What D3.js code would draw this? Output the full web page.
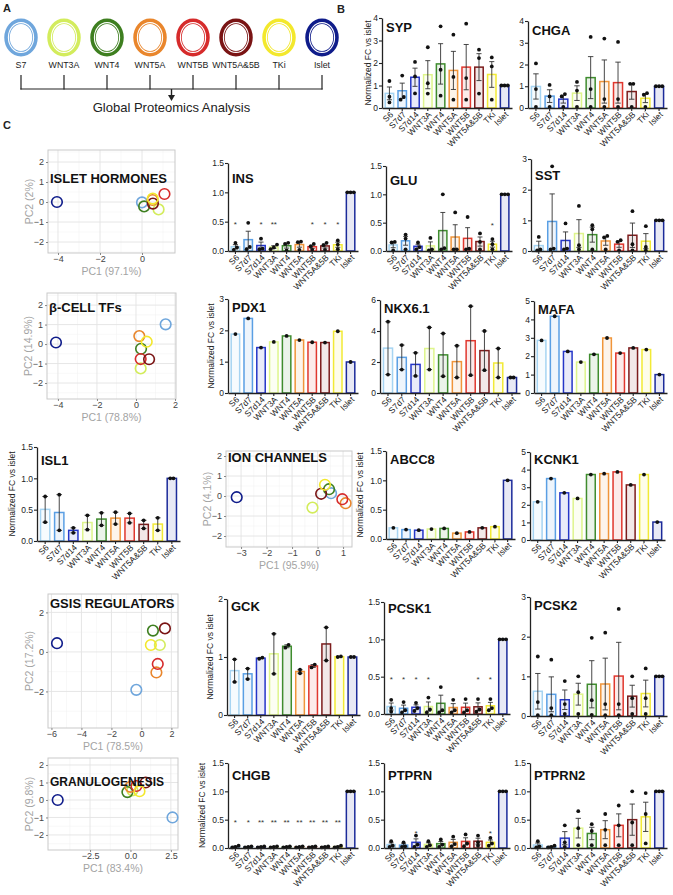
<!DOCTYPE html>
<html>
<head>
<meta charset="utf-8">
<script src="https://cdn.jsdelivr.net/npm/d3@7"></script>
<style>
  body { margin: 0; background: #fff; }
  svg { display: block; }
  text { font-family: "Liberation Sans", Arial, sans-serif; }
</style>
</head>
<body>
<svg width="673" height="895"></svg>
<script>
// ---- data ----
const cats = ["S6", "S7d7", "S7d14", "WNT3A", "WNT4", "WNT5A", "WNT5B", "WNT5A&5B", "TKi", "Islet"];
const catColors = ["#a6d4f2", "#5a9fe4", "#2536c8", "#def58c", "#3f8c2e", "#f0953a", "#e0372e", "#7c1c1c", "#f2ea35", "#1c2b9a"];

const groups = ["S7", "WNT3A", "WNT4", "WNT5A", "WNT5B", "WNT5A&5B", "TKi", "Islet"];
const groupColors = ["#6fa6dc", "#d3ec5c", "#3e7f20", "#e9862c", "#d62b2b", "#7a1414", "#f3e82c", "#0f1c8a"];

// replicate values per category (order = cats)
const sypVals  = [[1.2,0.5,0.25],[1.44,0.49,0.37],[2.05,1.4,0.65],[2.7,1.1,0.64],[3.63,1.7,0.55],[3.26,1.38,0.37],[3.75,1.33,0.37],[2.59,2.22,0.64],[2.25,1.85,0.37],[1,1,1]];
const chgaVals = [[2.05,0.87,0.05],[1.06,0.53,0.05],[0.64,0.53,0.05],[1.2,0.8,0.05],[3.27,0.87,0.05],[3.19,0.41,0.05],[3.04,0.41,0.05],[1.11,1.11,0.05],[0.68,0.61,0.05],[1,1,1]];
const insVals  = [[0.14,0.06,0.02],[0.48,0.07,0.03],[0.21,0.04,0.03],[0.11,0.06,0.03],[0.14,0.12,0.01],[0.16,0.15,0.02],[0.12,0.08,0.02],[0.14,0.1,0.02],[0.18,0.11,0.03],[1,1,1]];
const insStars = ["*","","*","**","","","*","*","*",""];
const gluVals  = [[0.16,0.15,0.01],[0.29,0.22,0.03],[0.15,0.07,0.03],[0.23,0.03,0.01],[1.0,0.05,0.03],[0.68,0.03,0.03],[0.6,0.04,0.03],[0.31,0.16,0.03],[0.21,0.12,0.03],[1,1,1]];
const gluStars = ["","","","","","","","","*",""];
const sstVals  = [[0.46,0.05,0.02],[2.76,0.08,0.05],[0.9,0.08,0.05],[1.47,0.19,0.05],[0.84,0.71,0.05],[0.49,0.44,0.05],[0.35,0.3,0.02],[1.3,0.22,0.02],[0.81,0.13,0.02],[1,1,1]];
const pdx1Vals = [[1.88],[2.38],[1.45],[1.63],[1.82],[1.69],[1.62],[1.61],[1.97],[0.99]];
const nkxVals  = [[4.6,1.19],[3.09,1.51],[2.59,1.1],[4.23,1.51],[3.84,1.08],[3.05,1.0],[5.6,1.15],[4.0,1.47],[2.87,1.0],[1,1]];
const mafaVals = [[2.86],[4.17],[2.26],[1.68],[2.1],[2.99],[2.17],[2.45],[2.36],[1.0]];
const isl1Vals = [[0.71,0.3],[0.74,0.17],[0.21,0.13],[0.41,0.18],[0.45,0.25],[0.46,0.27],[0.44,0.29],[0.33,0.2],[0.37,0.17],[1,1]];
const abcc8Vals = [[0.19],[0.16],[0.15],[0.17],[0.18],[0.10],[0.12],[0.19],[0.21],[1.0]];
const kcnk1Vals = [[2.17],[3.49],[2.68],[2.36],[3.72],[3.77],[3.87],[3.13],[3.72],[1.02]];
const gckVals  = [[0.96,0.57],[0.8,0.62],[0.99,0.97],[1.4,0.71],[1.21,1.16],[0.78,0.72],[0.87,0.82],[1.51,0.94],[1.01,1.0],[1,1]];
const pcsk1Vals = [[0.19,0.08,0.03],[0.16,0.05,0.02],[0.15,0.08,0.04],[0.22,0.06,0.02],[0.36,0.05,0.02],[0.19,0.05,0.02],[0.2,0.05,0.02],[0.2,0.06,0.03],[0.2,0.08,0.05],[1,1,1]];
const pcsk1Stars = ["*","*","*","*","","","","*","*",""];
const pcsk2Vals = [[1.5,0.35,0.02],[1.42,0.2,0.02],[0.88,0.3,0.05],[1.0,0.6,0.05],[1.97,0.4,0.03],[2.1,0.3,0.02],[2.7,0.3,0.02],[1.0,0.45,0.05],[1.2,0.45,0.05],[1,1,1]];
const chgbVals = [[0.04,0.02,0.01],[0.03,0.02,0.01],[0.03,0.02,0.01],[0.03,0.02,0.01],[0.03,0.02,0.01],[0.03,0.02,0.01],[0.03,0.02,0.01],[0.03,0.02,0.01],[0.04,0.02,0.01],[1,1,1]];
const chgbStars = ["*","*","**","**","**","**","**","**","**",""];
const ptprnVals = [[0.12,0.04,0.02],[0.1,0.03,0.02],[0.22,0.06,0.02],[0.12,0.05,0.02],[0.15,0.06,0.02],[0.2,0.07,0.03],[0.24,0.08,0.03],[0.22,0.1,0.04],[0.18,0.08,0.04],[1,1,1]];
const ptprnStars = ["","","*","","","","","","*",""];
const ptprn2Vals = [[0.12,0.03,0.01],[0.04,0.02,0.01],[0.4,0.1,0.02],[0.65,0.35,0.05],[0.42,0.3,0.05],[0.6,0.32,0.05],[0.75,0.4,0.05],[1.0,0.45,0.05],[0.97,0.6,0.08],[1,1,1]];

// PCA scores, order = groups
const pcaHormones = [[0.0,-0.02],[0.79,-0.37],[0.1,-0.22],[0.5,0.1],[1.07,0.4],[0.52,-0.08],[0.51,0.17],[-4.05,0.0]];
const pcaTFs      = [[1.52,1.01],[0.24,-1.25],[0.26,-0.24],[0.17,0.41],[0.24,-0.77],[0.67,-0.78],[0.55,0.12],[-4.1,0.08]];
const pcaIon      = [[0.53,0.14],[-0.2,-0.58],[0.45,0.34],[1.1,-0.36],[0.97,-0.16],[0.14,0.11],[0.29,0.56],[-3.17,-0.06]];
const pcaGsis     = [[-0.34,-1.92],[1.23,0.35],[0.77,1.08],[1.0,-1.04],[1.09,-0.61],[1.57,1.19],[0.63,0.35],[-5.63,0.44]];
const pcaGranulo  = [[2.6,-1.0],[0.12,0.55],[-0.19,0.45],[0.0,0.75],[0.37,0.8],[0.94,1.0],[0.56,0.5],[-4.5,0.0]];

// ---- drawing ----
const svg = d3.select("svg");
const ink = "#222";

// panel letters
[["A", 3, 12], ["B", 337, 13], ["C", 3, 129]].forEach(p => {
  svg.append("text").attr("x", p[1]).attr("y", p[2]).text(p[0])
    .attr("font-weight", "bold").attr("font-size", 11).attr("fill", ink);
});

// panel A: rings, bracket, arrow
const ringX = d3.scalePoint().domain(groups).range([21, 322]);
const ringY = 37.5;
const ringG = svg.append("g");
groups.forEach((gName, i) => {
  const cx = ringX(gName);
  ringG.append("ellipse").attr("cx", cx).attr("cy", ringY).attr("rx", 14).attr("ry", 16.3)
    .attr("fill", "#fff").attr("stroke", groupColors[i]).attr("stroke-width", 5.5);
  ringG.append("ellipse").attr("cx", cx).attr("cy", ringY).attr("rx", 12.6).attr("ry", 14.9)
    .attr("fill", "none").attr("stroke", "#fff").attr("stroke-width", 1.1);
  ringG.append("text").attr("x", cx).attr("y", 68).attr("text-anchor", "middle")
    .attr("font-size", 8.8).attr("fill", ink).text(gName);
  ringG.append("line").attr("x1", cx).attr("x2", cx).attr("y1", 75).attr("y2", 89.5)
    .attr("stroke", ink).attr("stroke-width", 1.2);
});
const midX = (ringX(groups[0]) + ringX(groups[groups.length - 1])) / 2;
ringG.append("line").attr("x1", ringX(groups[0]) - 0.6).attr("x2", ringX(groups[groups.length - 1]) + 0.6)
  .attr("y1", 89).attr("y2", 89).attr("stroke", ink).attr("stroke-width", 1.2);
ringG.append("line").attr("x1", midX).attr("x2", midX).attr("y1", 89).attr("y2", 96)
  .attr("stroke", ink).attr("stroke-width", 1.4);
ringG.append("path").attr("d", `M${midX - 3.5},95 L${midX + 3.5},95 L${midX},101 Z`).attr("fill", ink);
ringG.append("text").attr("x", midX).attr("y", 112).attr("text-anchor", "middle")
  .attr("font-size", 13).attr("fill", ink).text("Global Proteomics Analysis");

// bar chart helper (GraphPad-style)
function barChart(c) {
  const g = svg.append("g");
  const x = d3.scaleBand().domain(cats).range([c.x0, c.x1]).paddingInner(0.34).paddingOuter(0.25);
  const y = d3.scaleLinear().domain([0, c.max]).range([c.y0, c.yTop]);
  const bw = x.bandwidth();
  const rows = c.vals.map((v, i) => ({
    cat: cats[i], col: catColors[i], v: v,
    m: d3.mean(v), se: v.length > 1 ? d3.deviation(v) / Math.sqrt(v.length) : 0
  }));

  g.selectAll("rect.bar").data(rows).join("rect").attr("class", "bar")
    .attr("x", d => x(d.cat)).attr("width", bw)
    .attr("y", d => y(d.m)).attr("height", d => c.y0 - y(d.m))
    .attr("fill", d => d.col).attr("fill-opacity", 0.1)
    .attr("stroke", d => d.col).attr("stroke-width", 1.5);

  const eb = rows.filter(d => d.se > 0.004);
  const cx = d => x(d.cat) + bw / 2;
  g.selectAll("line.eb").data(eb).join("line").attr("class", "eb")
    .attr("x1", cx).attr("x2", cx)
    .attr("y1", d => y(d.m + d.se)).attr("y2", d => y(Math.max(0, d.m - d.se)))
    .attr("stroke", "#333").attr("stroke-width", 0.9);
  ["hi", "lo"].forEach(k => {
    g.selectAll("line.cap" + k).data(eb).join("line").attr("class", "cap" + k)
      .attr("x1", d => cx(d) - bw * 0.3).attr("x2", d => cx(d) + bw * 0.3)
      .attr("y1", d => y(k === "hi" ? d.m + d.se : Math.max(0, d.m - d.se)))
      .attr("y2", d => y(k === "hi" ? d.m + d.se : Math.max(0, d.m - d.se)))
      .attr("stroke", "#333").attr("stroke-width", 0.9);
  });

  // dots: spread sideways only when values nearly coincide
  const pts = [];
  rows.forEach(d => {
    const sorted = d.v.slice().sort((a, b) => a - b);
    let cluster = [];
    const flush = () => {
      cluster.forEach((val, j) => pts.push({ cat: d.cat, val: val, off: (j - (cluster.length - 1) / 2) * 3.2 }));
      cluster = [];
    };
    sorted.forEach(val => {
      if (cluster.length && Math.abs(y(val) - y(cluster[cluster.length - 1])) > 3.2) flush();
      cluster.push(val);
    });
    flush();
  });
  g.selectAll("circle.dot").data(pts).join("circle").attr("class", "dot")
    .attr("cx", d => x(d.cat) + bw / 2 + d.off).attr("cy", d => y(d.val))
    .attr("r", 1.9).attr("fill", "#111");

  if (c.stars) {
    g.selectAll("text.star").data(rows.map((d, i) => ({ cat: d.cat, s: c.stars[i] })).filter(d => d.s))
      .join("text").attr("class", "star")
      .attr("x", d => x(d.cat) + bw / 2).attr("y", y(c.starY) + 5)
      .attr("text-anchor", "middle").attr("font-size", 8).attr("fill", "#333").text(d => d.s);
  }

  const fmt = c.max === 1.5 ? d3.format(".1f") : d3.format("d");
  const ya = g.append("g").attr("transform", `translate(${c.x0},0)`)
    .call(d3.axisLeft(y).tickValues(c.ticks).tickSize(3).tickSizeOuter(0).tickFormat(fmt));
  const xa = g.append("g").attr("transform", `translate(0,${c.y0})`)
    .call(d3.axisBottom(x).tickSize(3).tickSizeOuter(0));
  [ya, xa].forEach(a => {
    a.select(".domain").attr("stroke", ink).attr("stroke-width", 1.3);
    a.selectAll(".tick line").attr("stroke", ink).attr("stroke-width", 1.1);
    a.selectAll("text").attr("font-size", 8.5).attr("fill", ink).attr("font-family", null);
  });
  ya.selectAll("text").attr("x", -4);
  xa.selectAll("text")
    .attr("x", -2).attr("y", 3).attr("dy", "0.6em")
    .attr("transform", "rotate(-45)").style("text-anchor", "end");

  g.append("text").attr("x", c.x0 + 4).attr("y", c.yTop + c.tdy)
    .attr("font-weight", "bold").attr("font-size", 13).attr("fill", "#111").text(c.title);

  if (c.ylab) {
    const yc = (c.y0 + c.yTop) / 2, xl = c.x0 + c.ylabDx;
    g.append("text").attr("transform", `translate(${xl},${yc}) rotate(-90)`)
      .attr("text-anchor", "middle").attr("font-size", 8.5).attr("fill", ink)
      .text("Normalized FC vs islet");
  }
}

// PCA helper (ggplot-style)
function pcaPlot(c) {
  const g = svg.append("g");
  const x = d3.scaleLinear().domain(c.xd).range([c.x0, c.x1]);
  const y = d3.scaleLinear().domain(c.yd).range([c.y1, c.y0]);
  g.append("rect").attr("x", c.x0).attr("y", c.y0).attr("width", c.x1 - c.x0).attr("height", c.y1 - c.y0)
    .attr("fill", "#fff");
  const xs = c.xt[1] - c.xt[0], ys = c.yt[1] - c.yt[0];
  const xMinor = d3.range(c.xt[0] - xs * 1.5, c.xd[1], xs).filter(v => v > c.xd[0]);
  const yMinor = d3.range(c.yt[0] - ys * 1.5, c.yd[1], ys).filter(v => v > c.yd[0]);
  g.selectAll("line.xmin").data(xMinor).join("line").attr("class", "xmin")
    .attr("x1", d => x(d)).attr("x2", d => x(d)).attr("y1", c.y0).attr("y2", c.y1)
    .attr("stroke", "#f0f0f0").attr("stroke-width", 0.5);
  g.selectAll("line.ymin").data(yMinor).join("line").attr("class", "ymin")
    .attr("y1", d => y(d)).attr("y2", d => y(d)).attr("x1", c.x0).attr("x2", c.x1)
    .attr("stroke", "#f0f0f0").attr("stroke-width", 0.5);
  g.selectAll("line.xmaj").data(c.xt).join("line").attr("class", "xmaj")
    .attr("x1", d => x(d)).attr("x2", d => x(d)).attr("y1", c.y0).attr("y2", c.y1)
    .attr("stroke", "#e3e3e3").attr("stroke-width", 0.9);
  g.selectAll("line.ymaj").data(c.yt).join("line").attr("class", "ymaj")
    .attr("y1", d => y(d)).attr("y2", d => y(d)).attr("x1", c.x0).attr("x2", c.x1)
    .attr("stroke", "#e3e3e3").attr("stroke-width", 0.9);
  g.append("rect").attr("x", c.x0).attr("y", c.y0).attr("width", c.x1 - c.x0).attr("height", c.y1 - c.y0)
    .attr("fill", "none").attr("stroke", "#c9c9c9").attr("stroke-width", 1);

  g.selectAll("circle.pt").data(c.pts).join("circle").attr("class", "pt")
    .attr("cx", d => x(d[0])).attr("cy", d => y(d[1])).attr("r", 5.3)
    .attr("fill", "none").attr("stroke", (d, i) => groupColors[i]).attr("stroke-width", 1.6);

  const xa = g.append("g").attr("transform", `translate(0,${c.y1})`)
    .call(d3.axisBottom(x).tickValues(c.xt).tickSize(2).tickPadding(1).tickFormat(c.xfmt || d3.format("d")));
  const ya = g.append("g").attr("transform", `translate(${c.x0},0)`)
    .call(d3.axisLeft(y).tickValues(c.yt).tickSize(2).tickPadding(2).tickFormat(d3.format("d")));
  [xa, ya].forEach(a => {
    a.select(".domain").remove();
    a.selectAll(".tick line").attr("stroke", "#888");
    a.selectAll("text").attr("font-size", 9).attr("fill", "#444").attr("font-family", null);
  });

  g.append("text").attr("x", (c.x0 + c.x1) / 2).attr("y", c.y1 + 22).attr("text-anchor", "middle")
    .attr("font-size", 10.5).attr("fill", "#a3a3a3").text(c.xlab);
  g.append("text").attr("transform", `translate(${c.x0 - 15},${(c.y0 + c.y1) / 2}) rotate(-90)`)
    .attr("text-anchor", "middle").attr("font-size", 10.5).attr("fill", "#a3a3a3").text(c.ylab);
  g.append("text").attr("x", c.x0 + 2).attr("y", c.titleY)
    .attr("font-weight", "bold").attr("font-size", c.titleSize || 13).attr("fill", "#111").text(c.title);
}

// ---- panel B ----
barChart({ title: "SYP", vals: sypVals, x0: 382, x1: 512, y0: 108, yTop: 18, max: 4, ticks: [0,1,2,3,4], tdy: 14, ylab: true, ylabDx: -11 });
barChart({ title: "CHGA", vals: chgaVals, x0: 528, x1: 667, y0: 108, yTop: 21, max: 4, ticks: [0,1,2,3,4], tdy: 14 });

// ---- panel C, row 1 ----
pcaPlot({ title: "ISLET HORMONES", pts: pcaHormones, x0: 48, x1: 175, y0: 150, y1: 253,
  xd: [-4.476, 1.571], yd: [-2.55, 2.6], xt: [-4, -2, 0], yt: [-2, -1, 0, 1, 2], titleY: 183,
  xlab: "PC1 (97.1%)", ylab: "PC2 (2%)" });
barChart({ title: "INS", vals: insVals, stars: insStars, starY: 0.5, x0: 228, x1: 358, y0: 251, yTop: 163, max: 1.5, ticks: [0,0.5,1,1.5], tdy: 20 });
barChart({ title: "GLU", vals: gluVals, stars: gluStars, starY: 0.5, x0: 386, x1: 512, y0: 251, yTop: 166, max: 1.5, ticks: [0,0.5,1,1.5], tdy: 19 });
barChart({ title: "SST", vals: sstVals, x0: 531, x1: 667, y0: 251, yTop: 159, max: 3, ticks: [0,1,2,3], tdy: 21 });

// ---- row 2 ----
pcaPlot({ title: "β-CELL TFs", pts: pcaTFs, x0: 47, x1: 176, y0: 293, y1: 399,
  xd: [-4.56, 2.05], yd: [-2.82, 2.62], xt: [-4, -2, 0, 2], yt: [-2, -1, 0, 1, 2], titleY: 312,
  xlab: "PC1 (78.8%)", ylab: "PC2 (14.9%)" });
barChart({ title: "PDX1", vals: pdx1Vals, x0: 228, x1: 358, y0: 393, yTop: 299, max: 3, ticks: [0,1,2,3], tdy: 13, ylab: true, ylabDx: -14 });
barChart({ title: "NKX6.1", vals: nkxVals, x0: 380, x1: 520, y0: 393, yTop: 300, max: 6, ticks: [0,2,4,6], tdy: 13 });
barChart({ title: "MAFA", vals: mafaVals, x0: 534, x1: 667, y0: 393, yTop: 301, max: 5, ticks: [0,1,2,3,4,5], tdy: 13 });

// ---- row 3 ----
barChart({ title: "ISL1", vals: isl1Vals, x0: 37, x1: 180, y0: 541, yTop: 447, max: 1.5, ticks: [0,0.5,1,1.5], tdy: 18, ylab: true, ylabDx: -22 });
pcaPlot({ title: "ION CHANNELS", pts: pcaIon, x0: 226, x1: 352, y0: 451, y1: 547,
  xd: [-3.59, 1.35], yd: [-2.55, 2.25], xt: [-3, -2, -1, 0, 1], yt: [-2, -1, 0, 1, 2], titleY: 462,
  xlab: "PC1 (95.9%)", ylab: "PC2 (4.1%)" });
barChart({ title: "ABCC8", vals: abcc8Vals, x0: 386, x1: 515, y0: 539, yTop: 451, max: 1.5, ticks: [0,0.5,1,1.5], tdy: 13, ylab: true, ylabDx: -23 });
barChart({ title: "KCNK1", vals: kcnk1Vals, x0: 530, x1: 665, y0: 540, yTop: 452, max: 5, ticks: [0,1,2,3,4,5], tdy: 12 });

// ---- row 4 ----
pcaPlot({ title: "GSIS REGULATORS", pts: pcaGsis, x0: 48, x1: 178, y0: 594, y1: 728,
  xd: [-6.23, 2.44], yd: [-3.85, 2.93], xt: [-6, -4, -2, 0, 2], yt: [-2, 0, 2], titleY: 608,
  xlab: "PC1 (78.5%)", ylab: "PC2 (17.2%)" });
barChart({ title: "GCK", vals: gckVals, x0: 227, x1: 360, y0: 715, yTop: 599, max: 2, ticks: [0,1,2], tdy: 12, ylab: true, ylabDx: -14 });
barChart({ title: "PCSK1", vals: pcsk1Vals, stars: pcsk1Stars, starY: 0.5, x0: 384, x1: 510, y0: 714, yTop: 602, max: 1.5, ticks: [0,0.5,1,1.5], tdy: 11 });
barChart({ title: "PCSK2", vals: pcsk2Vals, x0: 530, x1: 667, y0: 716, yTop: 597, max: 3, ticks: [0,1,2,3], tdy: 13 });

// ---- row 5 ----
pcaPlot({ title: "GRANULOGENESIS", titleSize: 12, pts: pcaGranulo, x0: 48, x1: 178, y0: 758, y1: 850,
  xd: [-5.1, 2.94], yd: [-2.86, 2.4], xt: [-2.5, 0, 2.5], xfmt: d3.format(".1f"), yt: [-2, -1, 0, 1, 2], titleY: 786,
  xlab: "PC1 (83.4%)", ylab: "PC2 (9.8%)" });
barChart({ title: "CHGB", vals: chgbVals, stars: chgbStars, starY: 0.5, x0: 228, x1: 358, y0: 848, yTop: 763, max: 1.5, ticks: [0,0.5,1,1.5], tdy: 17, ylab: true, ylabDx: -23 });
barChart({ title: "PTPRN", vals: ptprnVals, stars: ptprnStars, starY: 0.3, x0: 384, x1: 510, y0: 848, yTop: 763, max: 1.5, ticks: [0,0.5,1,1.5], tdy: 17 });
barChart({ title: "PTPRN2", vals: ptprn2Vals, x0: 530, x1: 667, y0: 848, yTop: 763, max: 1.5, ticks: [0,0.5,1,1.5], tdy: 17 });
</script>
</body>
</html>
